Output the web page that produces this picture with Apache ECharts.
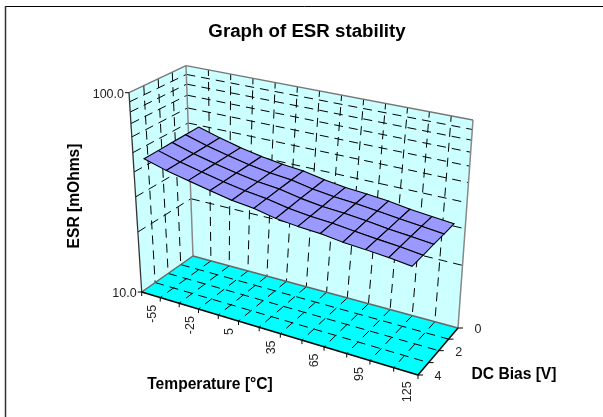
<!DOCTYPE html>
<html>
<head>
<meta charset="utf-8">
<style>html,body{margin:0;padding:0;background:#fff}#c{width:603px;height:417px}</style>
<script src="https://cdn.jsdelivr.net/npm/echarts@6/dist/echarts.min.js"></script>
</head>
<body>
<div id="c"></div>
<script>
// ---- data ----
const temperatures = [-55,-40,-25,-10,5,20,35,50,65,80,95,110,125];
const temperatureLabels = ['-55','','-25','','5','','35','','65','','95','','125'];
const biasValues = [0,1,2,3,4];
const biasLabels = ['0','','2','','4'];
const esrTicks = [10,20,30,40,50,60,70,80,90,100];
const esrLabels = [[10,'10.0'],[100,'100.0']];
const esrBias0 = [48.9,45.3,42.5,40.4,38.9,38.0,36.2,35.0,34.3,33.5,32.3,31.5,30.8];
const esrBias1 = [48.6,45.0,42.3,40.1,38.5,37.5,35.7,34.6,33.9,33.0,32.0,31.2,30.4];
const esrBias2 = [48.4,44.8,42.1,39.9,38.1,37.1,35.3,34.1,33.5,32.6,31.6,30.9,30.1];
const esrBias3 = [48.1,44.5,41.9,39.6,37.8,36.6,34.8,33.7,33.1,32.1,31.3,30.6,29.7];
const esrBias4 = [47.9,44.3,41.7,39.4,37.4,36.2,34.3,33.3,32.7,31.6,31.0,30.3,29.4];
const esrRows = [esrBias0,esrBias1,esrBias2,esrBias3,esrBias4];

// ---- view: where the box's eight corners sit on the page ----
const floorQuad = [[193,256],[458,328],[418,375],[141.7,292]]; // back-left, back-right, front-right, front-left
const topQuad   = [[186,65.7],[473,120],[430.7,149.2],[129,92.7]];
const FONT = 'Liberation Sans, Arial, sans-serif';
const DASH = [9,6];

function homography(q){
  const [x0,y0]=q[0],[x1,y1]=q[1],[x2,y2]=q[2],[x3,y3]=q[3];
  const dx1=x1-x2,dx2=x3-x2,dx3=x0-x1+x2-x3,dy1=y1-y2,dy2=y3-y2,dy3=y0-y1+y2-y3;
  const den=dx1*dy2-dy1*dx2,g=(dx3*dy2-dx2*dy3)/den,h=(dx1*dy3-dx3*dy1)/den;
  const a=x1-x0+g*x1,b=x3-x0+h*x3,d=y1-y0+g*y1,e=y3-y0+h*y3;
  return (u,v)=>{const s=g*u+h*v+1;return [(a*u+b*v+x0)/s,(d*u+e*v+y0)/s];};
}
const floorH=homography(floorQuad), topH=homography(topQuad);
function project(u,v,w){
  const p=floorH(u,v),q=topH(u,v);
  return [p[0]+(q[0]-p[0])*w,p[1]+(q[1]-p[1])*w];
}
// the library's own scales: x band centre and log height, normalised to the grid
function axisPos(params,api,ti,esr){
  const r=params.coordSys,c=api.coord([ti,esr]);
  return {u:(c[0]-r.x)/r.width,w:(r.y+r.height-c[1])/r.height};
}
const bandEdge=k=>k/temperatures.length;
const depth=b=>b/(biasValues.length-1);
function line(a,b,color,width,dash,offset){
  return {type:'line',shape:{x1:a[0],y1:a[1],x2:b[0],y2:b[1]},
    style:{stroke:color,lineWidth:width,lineDash:dash||null,lineDashOffset:offset||0,fill:null}};
}
function poly(points,fill,stroke,width){
  return {type:'polygon',shape:{points},style:{fill,stroke:stroke||null,lineWidth:width||0}};
}
function label(text,x,y,opt){
  opt=opt||{};
  return {type:'text',x,y,rotation:opt.rotation||0,
    style:{text,fill:opt.fill||'#222',font:(opt.bold?'bold ':'')+(opt.size||12.5)+'px '+FONT,
    align:opt.align||'center',verticalAlign:'middle'}};
}
function custom(data,renderItem,z){
  return {type:'custom',coordinateSystem:'cartesian2d',data,renderItem,z,silent:true,
    encode:{x:0,y:1},clip:false,animation:false};
}

const surfaceData=[];
esrRows.forEach((row,b)=>{ if(b<esrRows.length-1) row.forEach((e,t)=>{ if(t<row.length-1) surfaceData.push([t,e,b]); }); });

const titleFont='bold 15.6px '+FONT;
const option={
  animation:false,
  backgroundColor:'#fff',
  title:{text:'Graph of ESR stability',left:302,top:17,textAlign:'center',
    textStyle:{fontFamily:FONT,fontWeight:'bold',fontSize:18.7,color:'#000'}},
  grid:{left:0,right:0,top:0,bottom:0,containLabel:false},
  xAxis:{type:'category',data:temperatures.map(String),show:false},
  yAxis:{type:'log',min:10,max:100,logBase:10,show:false},
  graphic:[
    {type:'line',shape:{x1:5.5,y1:6.5,x2:603,y2:6.5},style:{stroke:'#000',lineWidth:1}},
    {type:'line',shape:{x1:5.5,y1:6,x2:5.5,y2:417},style:{stroke:'#333',lineWidth:1.5}},
    {type:'text',x:75,y:196,rotation:Math.PI/2,style:{text:'ESR [mOhms]',font:titleFont,fill:'#000',align:'center',verticalAlign:'middle'}},
    {type:'text',x:210,y:384.5,style:{text:'Temperature [°C]',font:titleFont,fill:'#000',align:'center',verticalAlign:'middle'}},
    {type:'text',x:514,y:374.5,style:{text:'DC Bias [V]',font:titleFont,fill:'#000',align:'center',verticalAlign:'middle'}}
  ],
  series:[
    // walls and floor
    custom([[0,10]],()=>({type:'group',children:[
      poly([project(0,1,0),project(0,0,0),project(0,0,1),project(0,1,1)],'#CCFFFF'),
      poly([project(0,0,0),project(1,0,0),project(1,0,1),project(0,0,1)],'#CCFFFF'),
      poly([project(0,0,0),project(1,0,0),project(1,1,0),project(0,1,0)],'#00FFFF')
    ]}),1),
    // horizontal ESR grid on both walls
    custom(esrTicks.slice(1,-1).map(e=>[0,e]),(params,api)=>{
      const w=axisPos(params,api,0,api.value(1)).w;
      return {type:'group',children:[
        line(project(0,1,w),project(0,0,w),'#000',1,DASH),
        line(project(0,0,w),project(1,0,w),'#000',1,DASH)
      ]};
    },2),
    // temperature band edges: back wall and floor
    custom(temperatures.slice(1).map((t,k)=>[k,10]),(params,api)=>{
      const u=bandEdge(api.value(0)+1);
      return {type:'group',children:[
        line(project(u,0,1),project(u,0,0),'#000',1,DASH,3),
        line(project(u,0,0),project(u,1,0),'#000',1,DASH)
      ]};
    },2),
    // bias lines: left wall and floor
    custom(biasValues.slice(1,-1).map(b=>[0,10,b]),(params,api)=>{
      const v=depth(api.value(2));
      return {type:'group',children:[
        line(project(0,v,1),project(0,v,0),'#000',1,DASH),
        line(project(0,v,0),project(1,v,0),'#000',1,DASH)
      ]};
    },2),
    // box edges
    custom([[0,10]],()=>{
      const kids=[
        line(project(0,0,1),project(0,1,1),'#777',1.3),
        line(project(0,0,1),project(1,0,1),'#777',1.3),
        line(project(0,0,1),project(0,0,0),'#888',1.5),
        line(project(1,0,1),project(1,0,0),'#888',1.5),
        line(project(0,0,0),project(1,0,0),'#666',1.5),
        line(project(0,0,0),project(0,1,0),'#666',1.5),
        line(project(0,1,1),project(0,1,0),'#333',1.3),
        line(project(0,1,0),project(1,1,0),'#000',1.5),
        line(project(1,1,0),project(1,0,0),'#000',1.5)
      ];
      return {type:'group',children:kids};
    },3),
    // temperature ticks + labels
    custom(temperatures.map((t,i)=>[i,10]),(params,api)=>{
      const i=api.value(0),kids=[];
      const e=project(bandEdge(i),1,0);
      kids.push(line(e,[e[0],e[1]+4],'#000',1));
      if(i===temperatures.length-1){const e2=project(1,1,0);kids.push(line(e2,[e2[0],e2[1]+4],'#000',1));}
      const c=axisPos(params,api,i,10);
      const p=project(c.u,1,0);
      if(temperatureLabels[i]) kids.push(label(temperatureLabels[i],p[0]+1.5,p[1]+10,{rotation:Math.PI/2,align:'right'}));
      return {type:'group',children:kids};
    },3),
    // bias ticks + labels
    custom(biasValues.map(b=>[0,10,b]),(params,api)=>{
      const b=api.value(2),p=project(1,depth(b),0),kids=[line(p,[p[0]+5,p[1]],'#000',1)];
      if(biasLabels[b]) kids.push(label(biasLabels[b],p[0]+20,p[1]+1.5));
      return {type:'group',children:kids};
    },3),
    // ESR ticks + labels
    custom(esrLabels.map(l=>[0,l[0]]),(params,api)=>{
      const e=api.value(1),w=axisPos(params,api,0,e).w,p=project(0,1,w);
      const text=esrLabels.find(l=>l[0]===e)[1];
      return {type:'group',children:[
        line([p[0]-4,p[1]],p,'#000',1),
        label(text,p[0]-5,p[1]+1.5,{align:'right'})
      ]};
    },3),
    // ESR surface
    custom(surfaceData,(params,api)=>{
      const t=api.value(0),b=api.value(2);
      const at=(ti,bi)=>{const a=axisPos(params,api,ti,esrRows[bi][ti]);return project(a.u,depth(bi),a.w);};
      return poly([at(t,b),at(t+1,b),at(t+1,b+1),at(t,b+1)],'#9999FF','#000',1.1);
    },5)
  ]
};
const chart=echarts.init(document.getElementById('c'),null,{renderer:'canvas'});
chart.setOption(option);
</script>
</body>
</html>
